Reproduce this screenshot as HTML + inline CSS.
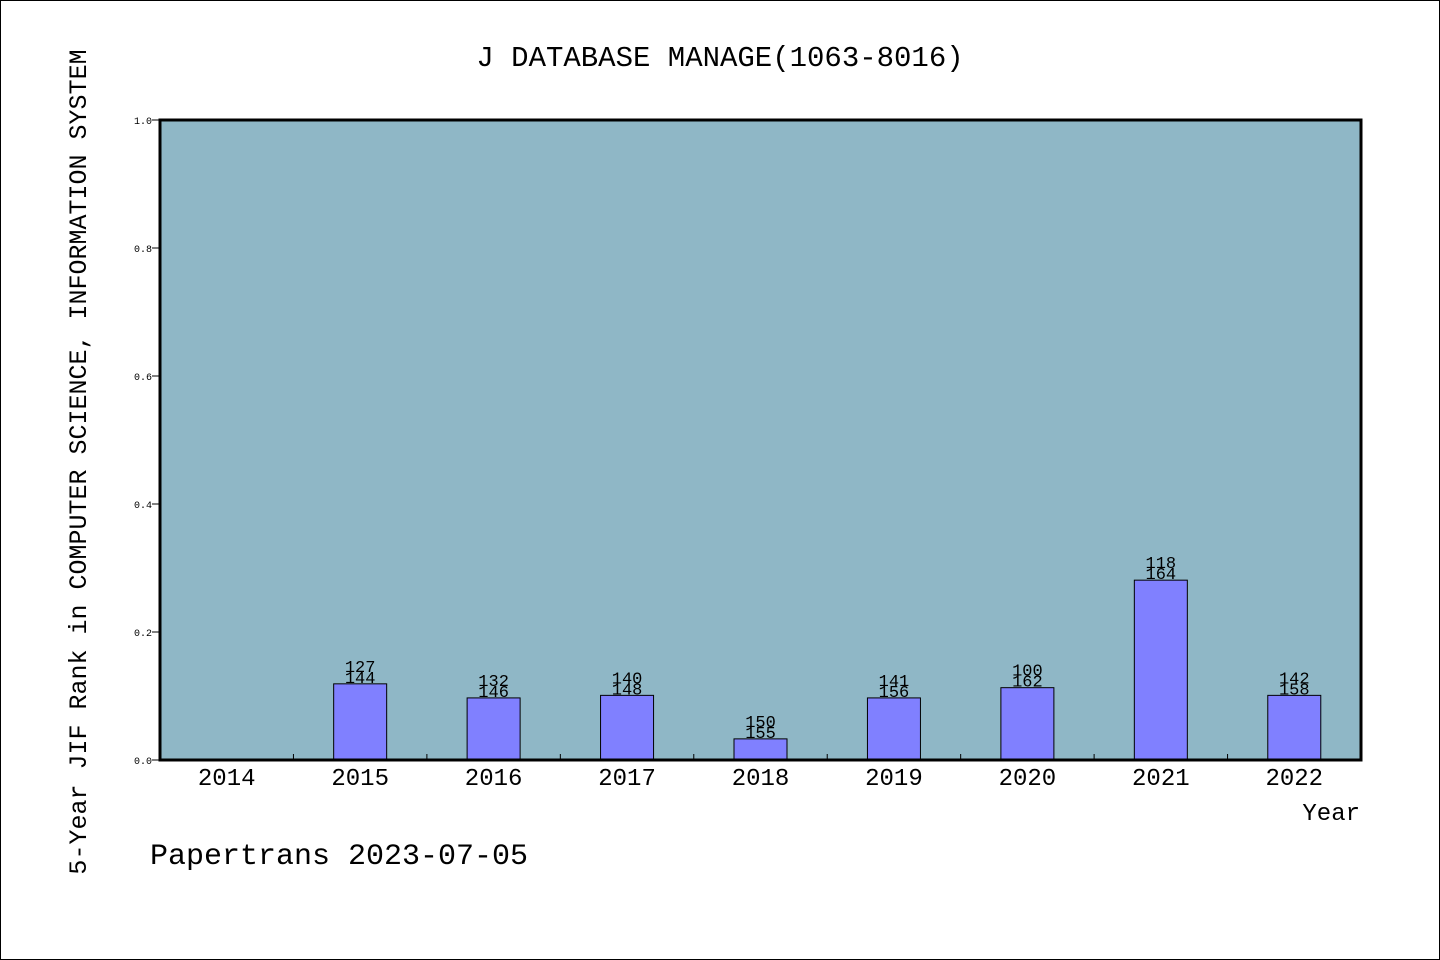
<!DOCTYPE html>
<html><head><meta charset="utf-8"><style>
body{margin:0;background:#fff}
svg{display:block}
text{font-family:"Liberation Mono","WenQuanYi Zen Hei",monospace;fill:#000}
</style></head><body>
<svg id="c" width="1440" height="960" xmlns="http://www.w3.org/2000/svg">
<rect x="0.5" y="0.5" width="1439" height="959" fill="#fff" stroke="#000"/>
<text x="720" y="66" font-size="29" text-anchor="middle">J DATABASE MANAGE(1063-8016)</text>
<rect x="160" y="120" width="1201" height="640" fill="#8fb7c6"/>
<g id="bars"></g>
<rect x="160" y="120" width="1201" height="640" fill="none" stroke="#000" stroke-width="3"/>
<text transform="translate(86,462) rotate(-90)" font-size="25" text-anchor="middle">5-Year JIF Rank in COMPUTER SCIENCE, INFORMATION SYSTEM</text>
<text x="1360" y="820" font-size="24" text-anchor="end">Year</text>
<text x="150" y="864" font-size="30">Papertrans 2023-07-05</text>
</svg>
<script>
const years=["2014","2015","2016","2017","2018","2019","2020","2021","2022"];
const values=[null,0.119,0.097,0.101,0.033,0.097,0.113,0.281,0.101];
const ranks=[null,"127","132","140","150","141","100","118","142"];
const totals=[null,"144","146","148","155","156","162","164","158"];
const yTicks=[0,0.2,0.4,0.6,0.8,1.0];
const L=160,R=1361,T=120,B=760;
const bw=(R-L)/years.length;
const xs=i=>L+bw*(i+0.5);
const ys=v=>B-(B-T)*v;
const svg=document.getElementById('c');
const g=document.getElementById('bars');
const NS="http://www.w3.org/2000/svg";
function mk(tag,at,parent){const e=document.createElementNS(NS,tag);for(const k in at)e.setAttribute(k,at[k]);(parent||svg).appendChild(e);return e;}
yTicks.forEach(v=>{
 const t=mk('line',{x1:L-8,x2:L,y1:ys(v),y2:ys(v),stroke:'#000','stroke-width':1});
 
 
 const l=mk('text',{x:152,y:ys(v)+4,'font-size':10,'text-anchor':'end'});
 l.textContent=v.toFixed(1);
 
 
});
years.forEach((y,i)=>{
 if(i>0){const t=mk('line',{x1:L+bw*i,x2:L+bw*i,y1:B-6,y2:B,stroke:'#000','stroke-width':1});
 
 }
 const l=mk('text',{x:xs(i),y:B+25,'font-size':24,'text-anchor':'middle'});
 l.textContent=y;
 
 
 if(values[i]==null)return;
 const top=ys(values[i]);
 const b=mk('rect',{x:xs(i)-26.5,y:top,width:53,height:B-top,fill:'#8080ff',stroke:'#000','stroke-width':1},g);
 
 
 const a=mk('text',{x:xs(i),y:top-12,'font-size':17,'text-anchor':'middle'});
 a.textContent=ranks[i];
 
 
 const c=mk('text',{x:xs(i),y:top-1,'font-size':17,'text-anchor':'middle'});
 c.textContent=totals[i];
 
 
});
</script>
</body></html>
